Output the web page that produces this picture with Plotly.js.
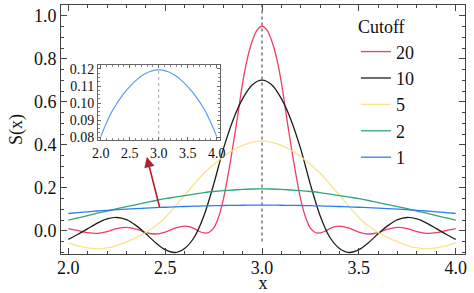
<!DOCTYPE html>
<html>
<head>
<meta charset="utf-8">
<script src="https://cdn.plot.ly/plotly-3.0.1.min.js"></script>
<style>html,body{margin:0;padding:0;background:#fff;}#chart{width:474px;height:293px;}</style>
</head>
<body>
<div id="chart"></div>
<script>
// x grid shared by cutoffs 10, 5, 2, 1
const xGrid = [2.00,2.05,2.10,2.15,2.20,2.25,2.30,2.35,2.40,2.45,2.50,2.55,2.60,2.65,2.70,2.75,2.80,2.85,2.90,2.95,
  3.00,3.05,3.10,3.15,3.20,3.25,3.30,3.35,3.40,3.45,3.50,3.55,3.60,3.65,3.70,3.75,3.80,3.85,3.90,3.95,4.00];

const cut1 = [0.0805,0.0846,0.0885,0.0922,0.0955,0.0983,0.1010,0.1034,0.1057,0.1078,0.1097,0.1114,0.1130,0.1145,0.1158,0.1169,0.1178,0.1185,0.1190,0.1194,
  0.1195,
  0.1194,0.1190,0.1185,0.1178,0.1169,0.1158,0.1145,0.1130,0.1114,0.1097,0.1078,0.1057,0.1034,0.1010,0.0983,0.0955,0.0922,0.0885,0.0846,0.0805];

const cut2 = [0.050,0.060,0.071,0.082,0.092,0.103,0.113,0.122,0.131,0.141,0.150,0.157,0.164,0.171,0.178,0.183,0.187,0.190,0.193,0.1945,
  0.195,
  0.1945,0.193,0.190,0.187,0.183,0.178,0.171,0.164,0.157,0.150,0.141,0.131,0.122,0.113,0.103,0.092,0.082,0.071,0.060,0.050];

const cut5 = [-0.056,-0.070,-0.080,-0.084,-0.080,-0.069,-0.052,-0.032,-0.008,0.022,0.062,0.112,0.165,0.218,0.268,0.309,0.345,0.375,0.398,0.412,
  0.417,
  0.412,0.398,0.375,0.345,0.309,0.268,0.218,0.165,0.112,0.062,0.022,-0.008,-0.032,-0.052,-0.069,-0.080,-0.084,-0.080,-0.070,-0.056];

const cut10 = [-0.040,-0.016,0.010,0.036,0.055,0.062,0.052,0.024,-0.014,-0.055,-0.088,-0.101,-0.082,-0.030,0.070,0.215,0.380,0.515,0.615,0.680,
  0.701,
  0.680,0.615,0.515,0.380,0.215,0.070,-0.030,-0.082,-0.101,-0.088,-0.055,-0.014,0.024,0.052,0.062,0.055,0.036,0.010,-0.016,-0.040];

// finer grid for cutoff 20
const xRed = [2.0,2.05,2.1,2.15,2.2,2.25,2.3,2.35,2.4,2.45,2.5,2.55,2.6,2.625,2.65,2.675,2.7,2.725,2.75,2.775,2.8,2.825,2.85,2.875,2.9,2.925,2.95,2.975,
  3.0,
  3.025,3.05,3.075,3.1,3.125,3.15,3.175,3.2,3.225,3.25,3.275,3.3,3.325,3.35,3.375,3.4,3.45,3.5,3.55,3.6,3.65,3.7,3.75,3.8,3.85,3.9,3.95,4.0];
const cut20 = [0.010,0.001,-0.009,-0.012,-0.004,0.010,0.016,0.008,-0.008,-0.015,-0.006,0.012,0.022,0.019,0.010,-0.002,-0.010,-0.008,0.012,0.062,0.145,0.262,0.395,0.540,0.690,0.805,0.885,0.935,
  0.952,
  0.935,0.885,0.805,0.690,0.540,0.395,0.262,0.145,0.062,0.012,-0.008,-0.010,-0.002,0.010,0.019,0.022,0.012,-0.006,-0.015,-0.008,0.008,0.016,0.010,-0.004,-0.012,-0.009,0.001,0.010];

const seriesNames = ['20','10','5','2','1'];
const seriesColors = ['#ef3d64','#1e1e1e','#fbe38a','#2ea67c','#2d7cf4'];
const centerX = 3;
const arrowHead = [2.405, 0.344];
const arrowTail = [2.473, 0.104];

const font = "Liberation Serif";
const ys = [cut20, cut10, cut5, cut2, cut1];
const xs = [xRed, xGrid, xGrid, xGrid, xGrid];

const traces = ys.map((y, i) => ({
  x: xs[i], y: y, type: 'scatter', mode: 'lines', name: seriesNames[i],
  line: {color: seriesColors[i], width: 1.3, shape: 'spline', smoothing: 0.8},
  xaxis: 'x', yaxis: 'y'
}));
traces.push({
  x: xGrid, y: cut1, type: 'scatter', mode: 'lines', showlegend: false,
  line: {color: '#5a9cf6', width: 1.2, shape: 'spline', smoothing: 0.8},
  xaxis: 'x2', yaxis: 'y2'
});

const axisCommon = {
  showgrid: false, zeroline: false, showline: true, linecolor: '#444', linewidth: 1,
  mirror: 'ticks', ticks: 'inside', tickcolor: '#444', ticklen: 6,
  tickfont: {family: font, size: 18, color: '#111'}
};

const layout = {
  width: 474, height: 293,
  margin: {l: 61, r: 9, t: 5, b: 39},
  paper_bgcolor: '#fff', plot_bgcolor: '#fff',
  font: {family: font, size: 18, color: '#111'},
  xaxis: Object.assign({}, axisCommon, {
    range: [1.962, 4.048], dtick: 0.5, tick0: 0, tickformat: '.1f',
    ticklabelstandoff: -3,
    minor: {dtick: 0.1, ticklen: 3, tickcolor: '#444', ticks: 'inside'},
    title: {text: 'x', font: {family: font, size: 18}, standoff: 2}
  }),
  yaxis: Object.assign({}, axisCommon, {
    range: [-0.108, 1.051], dtick: 0.2, tick0: 0, tickformat: '.1f',
    minor: {dtick: 0.05, ticklen: 3, tickcolor: '#444', ticks: 'inside'},
    title: {text: 'S(x)', font: {family: font, size: 18}, standoff: 6}
  }),
  xaxis2: {
    domain: [0.0916, 0.3936], anchor: 'y2', range: [1.953, 4.057],
    showgrid: false, zeroline: false, showline: true, linecolor: '#666', linewidth: 1,
    mirror: 'ticks', ticks: 'inside', ticklen: 3, tickcolor: '#666',
    dtick: 0.5, tick0: 0, tickformat: '.1f',
    minor: {dtick: 0.1, ticklen: 2, tickcolor: '#888', ticks: 'inside'},
    tickfont: {family: font, size: 14, color: '#111'}
  },
  yaxis2: {
    domain: [0.4578, 0.759], anchor: 'x2', range: [0.0784, 0.1223],
    showgrid: false, zeroline: false, showline: true, linecolor: '#666', linewidth: 1,
    mirror: 'ticks', ticks: 'inside', ticklen: 3, tickcolor: '#666',
    dtick: 0.01, tick0: 0, tickformat: '.2f',
    minor: {dtick: 0.0025, ticklen: 2, tickcolor: '#888', ticks: 'inside'},
    tickfont: {family: font, size: 14, color: '#111'}
  },
  shapes: [
    {type: 'line', xref: 'x', yref: 'y', x0: centerX, x1: centerX, y0: -0.05, y1: 1.051,
     line: {color: '#777', width: 1.5, dash: '3px,3px'}, layer: 'below'},
    {type: 'line', xref: 'x2', yref: 'y2', x0: centerX, x1: centerX, y0: 0.0784, y1: Math.max(...cut1),
     line: {color: '#aaa', width: 1, dash: 'dot'}, layer: 'below'}
  ],
  annotations: [{
    x: arrowHead[0], y: arrowHead[1], xref: 'x', yref: 'y',
    ax: arrowTail[0], ay: arrowTail[1], axref: 'x', ayref: 'y',
    text: '', showarrow: true, arrowhead: 2, arrowsize: 1.3, arrowwidth: 1.6, arrowcolor: '#b3202c'
  }],
  legend: {
    x: 0.73, y: 0.98, xanchor: 'left', yanchor: 'top',
    bgcolor: 'rgba(255,255,255,0)', borderwidth: 0,
    font: {family: font, size: 18, color: '#111'},
    title: {text: 'Cutoff', font: {family: font, size: 18}},
    itemwidth: 30, tracegroupgap: 0
  },
  showlegend: true
};

Plotly.newPlot('chart', traces, layout, {displayModeBar: false, staticPlot: true});
</script>
</body>
</html>
